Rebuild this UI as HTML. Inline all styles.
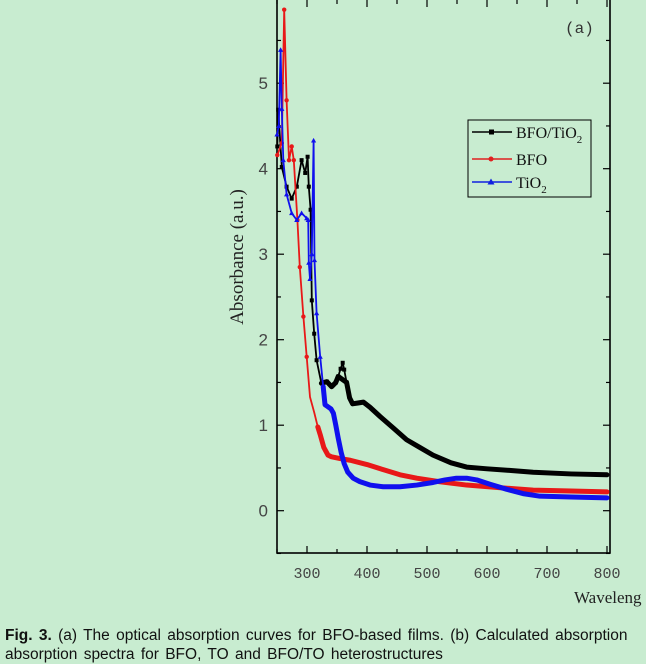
<!DOCTYPE html>
<html><head><meta charset="utf-8"><style>
html,body{margin:0;padding:0;background:#c8ecd0;width:646px;height:652px;overflow:hidden}
svg{display:block}
.cap{position:absolute;left:5px;top:626px;width:638px;overflow:hidden;font-family:"Liberation Sans",sans-serif;font-size:15.5px;line-height:19px;color:#111;white-space:nowrap;word-spacing:2px}
</style></head><body>
<svg id="chart" width="646" height="652" xmlns="http://www.w3.org/2000/svg">
<g id="axes"></g>
<g id="series"></g>
<text x="565" y="33" font-family="Liberation Mono, monospace" font-size="16" fill="#333">(a)</text>
<text transform="translate(243,257) rotate(-90)" text-anchor="middle" font-family="Liberation Serif, serif" font-size="19" fill="#222">Absorbance (a.u.)</text>
<text x="574" y="603" font-family="Liberation Serif, serif" font-size="17" fill="#222">Waveleng</text>
<g>
<rect x="468" y="120" width="123" height="77" fill="none" stroke="#000" stroke-width="1"/>
<g>
<line x1="472" y1="132" x2="512" y2="132" stroke="#000" stroke-width="1.5"/><rect x="489" y="129.5" width="5" height="5" fill="#000"/>
<text x="516" y="138" font-family="Liberation Serif, serif" font-size="16" fill="#111">BFO/TiO<tspan font-size="11" dy="5">2</tspan></text></g>
<g>
<line x1="472" y1="159" x2="512" y2="159" stroke="#e02020" stroke-width="1.5"/><circle cx="491" cy="159" r="2.5" fill="#e02020"/>
<text x="516" y="165" font-family="Liberation Serif, serif" font-size="16" fill="#111">BFO</text></g>
<g>
<line x1="472" y1="182" x2="512" y2="182" stroke="#1020e0" stroke-width="1.5"/><polygon points="491,178.5 494.5,184.5 487.5,184.5" fill="#1020e0"/>
<text x="516" y="188" font-family="Liberation Serif, serif" font-size="16" fill="#111">TiO<tspan font-size="11" dy="5">2</tspan></text></g>
</g>
</svg>
<div class="cap"><b>Fig. 3.</b> (a) The optical absorption curves for BFO-based films. (b) Calculated absorption<br>absorption spectra for BFO, TO and BFO/TO heterostructures</div>
<script>
const xTicks=[300,400,500,600,700,800];
const yTicks=[0,1,2,3,4,5];
const wlBFOTiO2=[250.5,252,258,266,274.5,283,291,297,301,303,306,308,312,316,324,333,341,348,352,356,359.5,362,366,371,376,385,394,405,422,445,466,488,510,540,566,600,640,677,740,800];
const absBFOTiO2=[4.26,4.69,4.02,3.79,3.65,3.79,4.10,3.95,4.14,3.79,3.52,2.46,2.07,1.76,1.49,1.51,1.45,1.50,1.57,1.66,1.73,1.65,1.50,1.32,1.25,1.26,1.27,1.21,1.10,0.96,0.83,0.74,0.65,0.56,0.51,0.49,0.47,0.45,0.43,0.42];
const wlBFO=[250.5,258,262,266,270,274.5,278,284,288,294,299.5,305,312,318,322,328,335,341,355,372,400,427,455,483,520,566,620,677,740,800];
const absBFO=[4.16,4.3,5.86,4.8,4.1,4.26,4.1,3.40,2.85,2.27,1.80,1.33,1.15,0.98,0.89,0.74,0.65,0.63,0.61,0.59,0.54,0.48,0.42,0.38,0.34,0.30,0.27,0.24,0.23,0.22];
const wlTiO2=[250,253,256,258,260.5,266,274.5,283,291,299.5,302,303,305,308,311,312.5,316,322,327,330,334,340,344,348,352,357,362,368,377,388,405,427,455,483,510,530,549,566,583,605,633,660,688,740,800];
const absTiO2=[4.4,4.5,5.39,4.7,4.1,3.7,3.48,3.40,3.48,3.42,3.40,2.9,2.71,3.0,4.33,2.93,2.31,1.80,1.45,1.24,1.22,1.19,1.14,1.0,0.85,0.68,0.55,0.45,0.38,0.34,0.30,0.28,0.28,0.30,0.33,0.36,0.38,0.38,0.36,0.31,0.25,0.20,0.17,0.16,0.15];

const X=v=>277+(v-250)*0.6;
const Y=v=>510.7-v*85.5;
const NS='http://www.w3.org/2000/svg';
function mk(tag,attrs,parent){const e=document.createElementNS(NS,tag);for(const k in attrs)e.setAttribute(k,attrs[k]);parent.appendChild(e);return e;}
const ax=document.getElementById('axes');
const frame=mk('rect',{x:277,y:-2,width:333,height:555,fill:'none',stroke:'#000','stroke-width':1.6},ax);


for(let v=250;v<=800;v+=50){
  const major=v%100===0;const len=major?7:4;
  mk('line',{x1:X(v),y1:553,x2:X(v),y2:553-len,stroke:'#000','stroke-width':1.2},ax);
  mk('line',{x1:X(v),y1:-2,x2:X(v),y2:-2+len+2,stroke:'#000','stroke-width':1.2},ax);
}
xTicks.forEach(v=>{
  const t=mk('text',{x:X(v),y:578,'text-anchor':'middle','font-family':'Liberation Mono, monospace','font-size':15,fill:'#444'},ax);
  t.textContent=v;
  
  
});
for(let v=-0.5;v<=6;v+=0.5){
  const major=Math.abs(v-Math.round(v))<1e-6;const len=major?7:4;
  mk('line',{x1:277,y1:Y(v),x2:277+len,y2:Y(v),stroke:'#000','stroke-width':1.2},ax);
  mk('line',{x1:610,y1:Y(v),x2:610-len,y2:Y(v),stroke:'#000','stroke-width':1.2},ax);
}
yTicks.forEach(v=>{
  const t=mk('text',{x:268,y:Y(v)+6,'text-anchor':'end','font-family':'Liberation Sans, sans-serif','font-size':17,fill:'#444'},ax);
  t.textContent=v;
  
  
});
const sg=document.getElementById('series');
function draw(name,wl,ab,color,marker){
  const g=mk('g',{},sg);
  
  
  const pts=wl.map((w,i)=>X(w)+','+Y(ab[i])).join(' ');
  mk('polyline',{points:pts,fill:'none',stroke:color,'stroke-width':1.8,'stroke-linejoin':'round'},g);
  const tail=[];wl.forEach((w,i)=>{if(w>=318&&ab[i]<1.6)tail.push(X(w)+','+Y(ab[i]));});
  mk('polyline',{points:tail.join(' '),fill:'none',stroke:color,'stroke-width':5,'stroke-linejoin':'round','stroke-linecap':'round'},g);
  wl.forEach((w,i)=>{
    if(ab[i]<1.5)return;
    const x=X(w),y=Y(ab[i]);
    if(marker==='sq')mk('rect',{x:x-2,y:y-2,width:4,height:4,fill:color},g);
    else if(marker==='tri')mk('polygon',{points:`${x},${y-2.6} ${x+2.6},${y+2} ${x-2.6},${y+2}`,fill:color},g);
    else mk('circle',{cx:x,cy:y,r:2.2,fill:color},g);
  });
}
draw('series-bfo-tio2',wlBFOTiO2,absBFOTiO2,'#000','sq');
draw('series-bfo',wlBFO,absBFO,'#e81818','ci');
draw('series-tio2',wlTiO2,absTiO2,'#1010ee','tri');
</script>
</body></html>
